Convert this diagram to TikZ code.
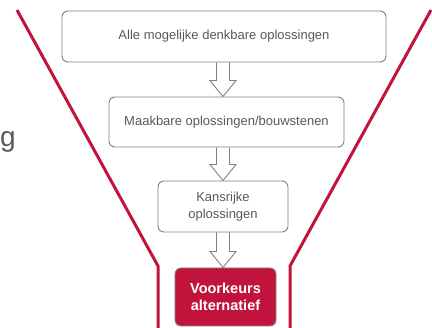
\documentclass[tikz,border=0pt]{standalone}
\usepackage{fontspec}
\setmainfont{Liberation Sans}
\usetikzlibrary{calc,backgrounds}
\definecolor{funnelred}{HTML}{C0143C}
\definecolor{txtgray}{HTML}{595959}
\definecolor{boxgray}{HTML}{808080}
\begin{document}
\begin{tikzpicture}[x=1pt,y=-1pt,
  stagebox/.style={draw=boxgray,line width=0.9pt,rounded corners=6pt,fill=white,
    text=txtgray,font=\fontsize{13}{17}\selectfont,align=center,inner sep=0pt},
  finalbox/.style={draw=boxgray,line width=0.9pt,rounded corners=6pt,fill=funnelred,
    text=white,font=\bfseries\fontsize{14.5}{17}\selectfont,align=center,inner sep=0pt},
  funnel/.style={draw=funnelred,line width=3pt},
  blockarr/.style={draw=boxgray,line width=0.9pt,fill=white}]
\useasboundingbox (0,0) rectangle (432,328);

% funnel lines
\draw[funnel] (17,10) -- (158,266) -- (158,332);
\draw[funnel] (431,10) -- (290,266) -- (290,332);

% cut-off text at left
\node[anchor=base west,inner sep=0pt,text=txtgray,font=\fontsize{28}{30}\selectfont] (gtxt) at (0,147) {g};

% boxes
\node[stagebox,minimum width=324pt,minimum height=51pt] (b1) at (224,36.5) {Alle mogelijke denkbare oplossingen};
\node[stagebox,minimum width=235pt,minimum height=50pt] (b2) at (226.5,122) {Maakbare oplossingen/bouwstenen};
\node[stagebox,minimum width=130pt,minimum height=51pt] (b3) at (223,206.5) {Kansrijke\\oplossingen};
\node[finalbox,minimum width=101pt,minimum height=58pt] (b4) at (225.5,297) {Voorkeurs\\alternatief};

% block arrows
\begin{scope}[on background layer]
\foreach \a/\b in {b1/b2,b2/b3,b3/b4}{
  \path[blockarr] let \p1=(\a.south), \p2=(\b.north) in
    (216.5pt,\y1) -- (216.5pt,\y2+16pt) -- (210pt,\y2+16pt) -- (223pt,\y2)
    -- (236pt,\y2+16pt) -- (229.5pt,\y2+16pt) -- (229.5pt,\y1);
}
\end{scope}
\end{tikzpicture}
\end{document}
